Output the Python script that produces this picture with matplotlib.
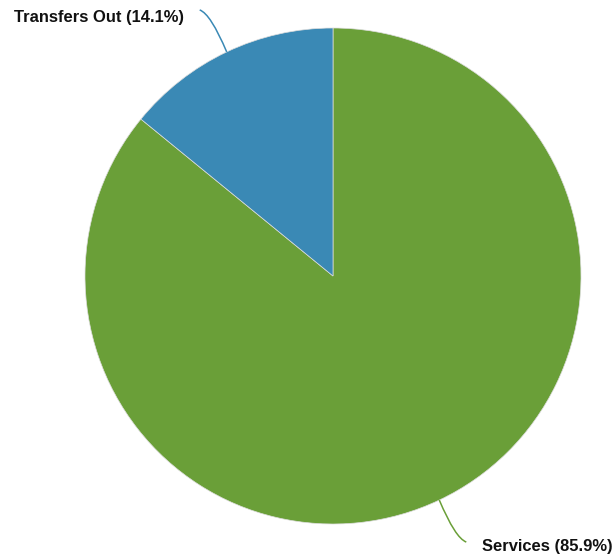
import numpy as np
import matplotlib
matplotlib.use("Agg")
import matplotlib.pyplot as plt
from matplotlib.path import Path
from matplotlib.patches import PathPatch

labels = ["Services", "Transfers Out"]
shares = [85.9, 14.1]
colors = ["#6a9f38", "#3a89b5"]

W, H = 613, 558
fig = plt.figure(figsize=(W / 100, H / 100), dpi=100)
ax = fig.add_axes([0, 0, 1, 1])
ax.set_xlim(0, W)
ax.set_ylim(0, H)
ax.set_aspect("equal")
ax.axis("off")

cx, cy, r = 333, H - 276, 248
wedges, _ = ax.pie(shares, colors=colors, startangle=90, counterclock=False,
                   center=(cx, cy), radius=r,
                   wedgeprops=dict(edgecolor="#dddddd", linewidth=0.5))
ax.set_xlim(0, W)
ax.set_ylim(0, H)

# leader lines + labels
for w, lab, val, col in zip(wedges, labels, shares, colors):
    ang = np.deg2rad((w.theta1 + w.theta2) / 2)
    x0, y0 = cx + r * np.cos(ang), cy + r * np.sin(ang)
    sx = np.sign(np.cos(ang))
    sy = np.sign(np.sin(ang))
    p1 = (x0 + sx * 16, y0 + sy * 38)
    p2 = (x0 + sx * 27, y0 + sy * 42)
    path = Path([(x0, y0), p1, p2], [Path.MOVETO, Path.CURVE3, Path.CURVE3])
    ax.add_patch(PathPatch(path, fc="none", ec=col, lw=1.1))
    ha = "left" if sx > 0 else "right"
    ax.text(p2[0] + sx * 16, p2[1] - sy * 2 - 6, f"{lab} ({val}%)", ha=ha, va="center",
            fontsize=11.9, fontweight="bold", family=["Liberation Sans", "DejaVu Sans"],
            color="#111111")

fig.savefig("out.png", dpi=100)
